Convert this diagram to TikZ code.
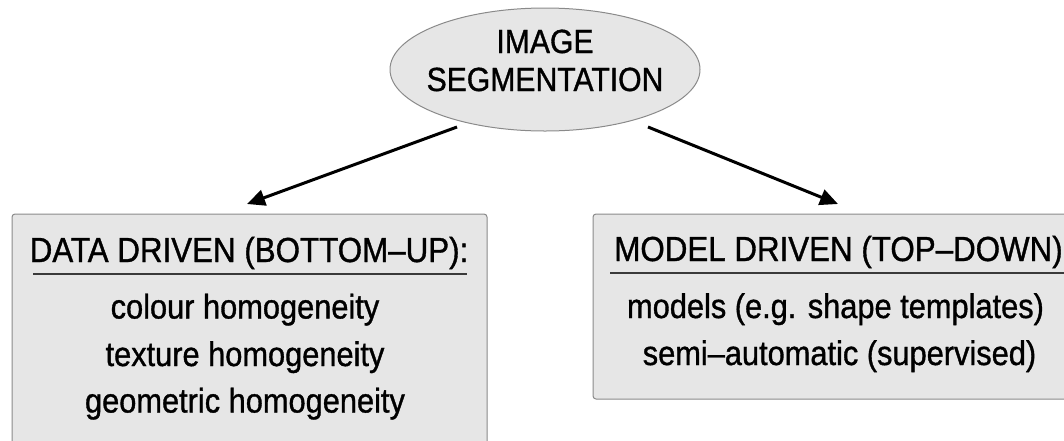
\documentclass[tikz,border=0pt]{standalone}
\usepackage{fontspec}
\setmainfont[FakeStretch=0.9,FakeBold=1.0]{Liberation Sans}
\usetikzlibrary{arrows.meta,shapes.geometric}
\definecolor{fillgray}{HTML}{E6E6E6}
\definecolor{edgegray}{HTML}{8A8A8A}
\definecolor{linegray}{HTML}{3A3A3A}
\tikzset{
  txt/.style={anchor=base, inner sep=0pt, font=\fontsize{34.2}{40}\selectfont},
  ttl/.style={anchor=base, inner sep=0pt, font=\fontsize{34.8}{40}\selectfont},
  etxt/.style={anchor=base, inner sep=0pt, font=\fontsize{33.5}{40}\selectfont},
  panel/.style={draw=edgegray, fill=fillgray, line width=1pt, rounded corners=3pt, rectangle, inner sep=0pt},
  oval/.style={draw=edgegray, fill=fillgray, line width=1pt, ellipse, inner sep=0pt},
  arr/.style={line width=3pt, -{Triangle[length=18pt,width=16pt]}},
  uline/.style={draw=linegray, line width=1.6pt}
}
\begin{document}
\begin{tikzpicture}[x=1pt,y=-1pt]
\useasboundingbox (0,0) rectangle (1064,440);
\clip (0,0) rectangle (1064,440);
% ellipse
\node[oval, minimum width=310pt, minimum height=123pt] (top) at (545,69.5) {};
\node[etxt] (t1) at (545,53) {IMAGE};
\node[etxt] (t2) at (545,91) {SEGMENTATION};
% left panel
\node[panel, minimum width=475pt, minimum height=250pt] (lbox) at (249.5,339) {};
\node[ttl] (lt) at (249,262) {DATA DRIVEN (BOTTOM{\textendash}UP):};
\coordinate (lu1) at (33,274);
\coordinate (lu2) at (467,274);
\draw[uline] (lu1) -- (lu2);
\node[txt] (l1) at (245,318.5) {colour homogeneity};
\node[txt] (l2) at (245,366) {texture homogeneity};
\node[txt] (l3) at (245,412.5) {geometric homogeneity};
% right panel
\node[panel, minimum width=492pt, minimum height=185pt] (rbox) at (839,306.5) {};
\node[ttl] (rt) at (838.5,261) {MODEL DRIVEN (TOP{\textendash}DOWN)};
\coordinate (ru1) at (610,273);
\coordinate (ru2) at (1067,273);
\draw[uline] (ru1) -- (ru2);
\node[txt] (r1) at (835.5,318) {models (e.g. shape templates)};
\node[txt] (r2) at (839.5,365) {semi{\textendash}automatic (supervised)};
% arrows
\coordinate (la) at (457,127);
\coordinate (lb) at (247,204);
\coordinate (ra) at (648,127);
\coordinate (rb) at (838,204);
\draw[arr] (la) -- (lb);
\draw[arr] (ra) -- (rb);
\end{tikzpicture}
\end{document}
